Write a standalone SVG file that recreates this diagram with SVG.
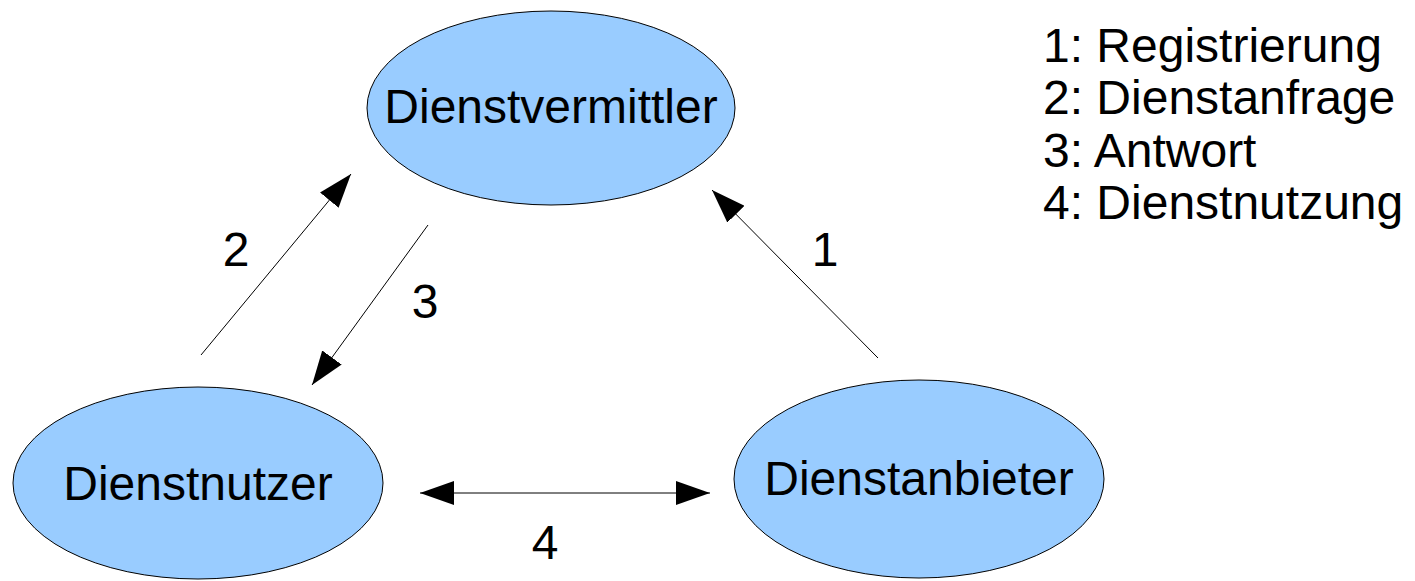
<svg xmlns="http://www.w3.org/2000/svg" width="1415" height="581" viewBox="0 0 1415 581">
<defs>
<style>
.node{fill:#99ccff;stroke:#000;stroke-width:1}
.lbl{font-family:"Liberation Sans",Arial,sans-serif;font-size:48px;fill:#000}
.con{stroke:#000;stroke-width:1;fill:none}
</style>
<marker id="ah" viewBox="0 0 34 24" refX="34" refY="12" markerWidth="34" markerHeight="24" markerUnits="userSpaceOnUse" orient="auto-start-reverse">
<path d="M0,0 L34,12 L0,24 Z" fill="#000"/>
</marker>
</defs>
<rect width="1415" height="581" fill="#fff"/>
<g id="dienstvermittler">
<ellipse class="node" cx="551" cy="108" rx="184" ry="97"/>
<text class="lbl" x="551" y="123" text-anchor="middle">Dienstvermittler</text>
</g>
<g id="dienstnutzer">
<ellipse class="node" cx="198" cy="483" rx="185" ry="96"/>
<text class="lbl" x="198" y="500" text-anchor="middle">Dienstnutzer</text>
</g>
<g id="dienstanbieter">
<ellipse class="node" cx="919" cy="479" rx="185" ry="99"/>
<text class="lbl" x="919" y="495" text-anchor="middle">Dienstanbieter</text>
</g>
<g id="connectors">
<line class="con" x1="201" y1="355" x2="351" y2="174" marker-end="url(#ah)"/>
<line class="con" x1="428" y1="225" x2="312" y2="385" marker-end="url(#ah)"/>
<line class="con" x1="878" y1="358" x2="712" y2="190" marker-end="url(#ah)"/>
<line class="con" x1="420" y1="493" x2="710" y2="493" marker-start="url(#ah)" marker-end="url(#ah)"/>
<text class="lbl" x="236" y="266" text-anchor="middle">2</text>
<text class="lbl" x="425" y="318" text-anchor="middle">3</text>
<text class="lbl" x="825" y="266" text-anchor="middle">1</text>
<text class="lbl" x="545" y="559" text-anchor="middle">4</text>
</g>
<g id="legend">
<text class="lbl" x="1043" y="62">1: Registrierung</text>
<text class="lbl" x="1043" y="114">2: Dienstanfrage</text>
<text class="lbl" x="1043" y="167">3: Antwort</text>
<text class="lbl" x="1043" y="219">4: Dienstnutzung</text>
</g>
</svg>
